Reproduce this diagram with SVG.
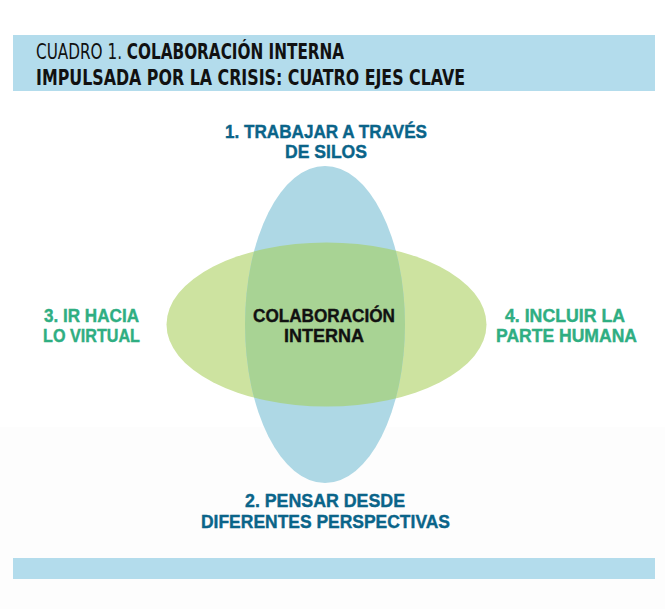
<svg xmlns="http://www.w3.org/2000/svg" width="665" height="609" viewBox="0 0 665 609">
<style>
.bar{fill:#b3dcec}
.t{font-family:"Liberation Sans Narrow","DejaVu Sans Condensed","Liberation Sans",sans-serif;font-size:20.5px;fill:#111}
.tb{font-weight:bold}
.tl{font-weight:normal}
.lab{font-family:"Liberation Sans",Arial,sans-serif;font-weight:bold;font-size:19px;text-anchor:middle;stroke-width:0.4px}
.blue{fill:#0a6489;stroke:#0a6489}
.green{fill:#2fae82;stroke:#2fae82}
.dark{fill:#111;stroke:#111}
</style>
<defs>
<clipPath id="clipGreen"><ellipse cx="326.5" cy="324.5" rx="160" ry="82"/></clipPath>
</defs>
<rect x="0" y="0" width="665" height="609" fill="#ffffff"/>
<rect x="0" y="427" width="665" height="182" fill="#fdfdfd"/>
<g id="title">
<rect class="bar" x="13" y="35" width="642" height="56"/>
<text class="t" transform="translate(36,59) scale(0.828,1)" x="0" y="0"><tspan class="tl">CUADRO 1. </tspan><tspan class="tb">COLABORACIÓN INTERNA</tspan></text>
<text class="t tb" x="36" y="85" textLength="429" lengthAdjust="spacingAndGlyphs">IMPULSADA POR LA CRISIS: CUATRO EJES CLAVE</text>
</g>
<g id="ellipse-green"><ellipse cx="326.5" cy="324.5" rx="160" ry="82" fill="#cde3a0"/></g>
<g id="ellipse-blue"><ellipse cx="325" cy="324.5" rx="80" ry="158.5" fill="#aed8e5"/></g>
<g id="overlap"><ellipse cx="325" cy="324.5" rx="80" ry="158.5" fill="#a8d394" clip-path="url(#clipGreen)"/></g>
<g id="center">
<text class="lab dark" x="324" y="322" textLength="142" lengthAdjust="spacingAndGlyphs">COLABORACIÓN</text>
<text class="lab dark" x="324" y="342" textLength="80" lengthAdjust="spacingAndGlyphs">INTERNA</text>
</g>
<g id="axis1">
<text class="lab blue" x="326" y="138" textLength="202" lengthAdjust="spacingAndGlyphs">1. TRABAJAR A TRAVÉS</text>
<text class="lab blue" x="326" y="158" textLength="82" lengthAdjust="spacingAndGlyphs">DE SILOS</text>
</g>
<g id="axis2">
<text class="lab blue" x="325" y="507" textLength="160" lengthAdjust="spacingAndGlyphs">2. PENSAR DESDE</text>
<text class="lab blue" x="325.5" y="528" textLength="249" lengthAdjust="spacingAndGlyphs">DIFERENTES PERSPECTIVAS</text>
</g>
<g id="axis3">
<text class="lab green" x="91.5" y="322" textLength="95" lengthAdjust="spacingAndGlyphs">3. IR HACIA</text>
<text class="lab green" x="91.5" y="342" textLength="97" lengthAdjust="spacingAndGlyphs">LO VIRTUAL</text>
</g>
<g id="axis4">
<text class="lab green" x="565" y="322" textLength="120" lengthAdjust="spacingAndGlyphs">4. INCLUIR LA</text>
<text class="lab green" x="566.5" y="342" textLength="141" lengthAdjust="spacingAndGlyphs">PARTE HUMANA</text>
</g>
<g id="footer"><rect class="bar" x="13" y="558" width="642" height="21"/></g>
</svg>
